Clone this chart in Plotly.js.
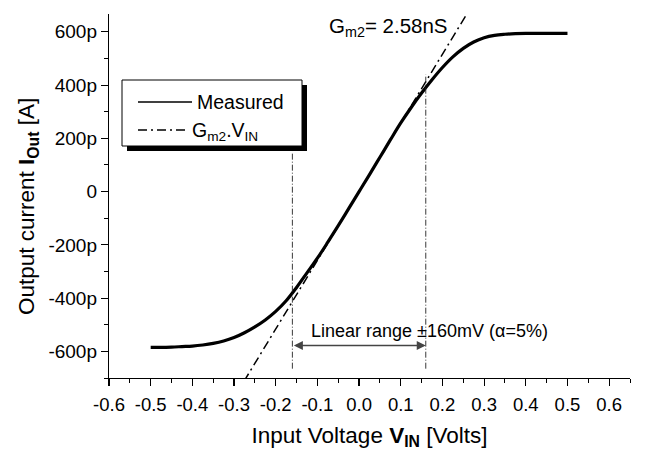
<!DOCTYPE html>
<html>
<head>
<meta charset="utf-8">
<script src="https://cdn.plot.ly/plotly-3.0.1.min.js"></script>
<style>html,body{margin:0;padding:0;background:#fff;}#chart{width:646px;height:453px;}</style>
</head>
<body>
<div id="chart"></div>
<script>
// Measured transfer curve (V in volts, I in pA)
const measV = [-0.500,-0.475,-0.450,-0.425,-0.400,-0.375,-0.350,-0.325,-0.300,-0.275,-0.250,-0.225,-0.200,-0.175,-0.150,-0.125,-0.100,-0.075,-0.050,-0.025,0,0.025,0.050,0.075,0.100,0.125,0.150,0.175,0.200,0.225,0.250,0.275,0.300,0.325,0.350,0.375,0.400,0.425,0.450,0.475,0.500];
const measI = [-585,-585,-584,-582,-580,-576,-570,-561,-548,-530,-508,-482,-450,-410,-360,-305,-250,-190,-128,-64,0,64,129,194,258,316,370,420,466,506,538,562,578,587,591,593,594,594,594,594,594];
// Linear fit Gm2*V (2.58 nS)
const fitV = [-0.30, 0.30];
const fitI = [-774, 774];
// Linear range markers (±160 mV)
const limLeftV = [-0.16, -0.16];
const limLeftI = [-665, 150];
const limRightV = [0.16, 0.16];
const limRightI = [-665, 440];
// Tick labels
const xTickVals = [-0.6,-0.5,-0.4,-0.3,-0.2,-0.1,0,0.1,0.2,0.3,0.4,0.5,0.6];
const xTickText = ["-0.6","-0.5","-0.4","-0.3","-0.2","-0.1","0.0","0.1","0.2","0.3","0.4","0.5","0.6"];
const yTickVals = [-600,-400,-200,0,200,400,600];
const yTickText = ["-600p","-400p","-200p","0","200p","400p","600p"];

const W = 646, H = 453;
const M = {l:109, r:16, t:14, b:75};
const pw = W - M.l - M.r, ph = H - M.t - M.b;
const px = x => (x - M.l) / pw;
const py = y => (H - M.b - y) / ph;

const FONT = "Liberation Sans, Arial, sans-serif";
const DASHDOT = '9px,4px,2px,4px';

const traces = [
  {x: measV, y: measI, mode: 'lines', line: {color: '#000', width: 3.2, shape: 'spline'}, showlegend: false, hoverinfo: 'skip'},
  {x: fitV, y: fitI, mode: 'lines', line: {color: '#000', width: 1.5, dash: DASHDOT}, showlegend: false, hoverinfo: 'skip'},
  {x: limLeftV, y: limLeftI, mode: 'lines', line: {color: '#222', width: 0.9, dash: '6px,2px,1px,2px'}, showlegend: false, hoverinfo: 'skip'},
  {x: limRightV, y: limRightI, mode: 'lines', line: {color: '#222', width: 0.9, dash: '6px,2px,1px,2px'}, showlegend: false, hoverinfo: 'skip'}
];

const layout = {
  width: W, height: H,
  margin: M,
  paper_bgcolor: '#fff', plot_bgcolor: '#fff',
  font: {family: FONT, size: 19, color: '#000'},
  showlegend: false,
  xaxis: {
    range: [-0.6, 0.65], showgrid: false, zeroline: false,
    showline: true, linecolor: '#000', linewidth: 1.2,
    tickmode: 'array', tickvals: xTickVals, ticktext: xTickText,
    ticks: 'outside', ticklen: 7, tickwidth: 1.2, tickcolor: '#000',
    ticklabelstandoff: 3,
    minor: {tickmode: 'linear', tick0: 0, dtick: 0.05, ticks: 'outside', ticklen: 4, tickwidth: 1, tickcolor: '#000'},
    tickfont: {size: 18.5},
    title: {text: 'Input Voltage <b>V<sub>IN</sub></b> [Volts]', font: {size: 22.5}, standoff: 12},
    automargin: false
  },
  yaxis: {
    range: [-700, 667], showgrid: false, zeroline: false,
    showline: true, linecolor: '#000', linewidth: 1.2,
    tickmode: 'array', tickvals: yTickVals, ticktext: yTickText,
    ticks: 'outside', ticklen: 7, tickwidth: 1.2, tickcolor: '#000',
    minor: {tickmode: 'linear', tick0: 0, dtick: 100, ticks: 'outside', ticklen: 4, tickwidth: 1, tickcolor: '#000'},
    tickfont: {size: 19},
    automargin: false
  },
  shapes: [
    // legend shadow
    {type: 'rect', xref: 'paper', yref: 'paper', x0: px(127), x1: px(307), y0: py(151), y1: py(85), fillcolor: '#000', line: {width: 0}, layer: 'above'},
    // legend box
    {type: 'rect', xref: 'paper', yref: 'paper', x0: px(122), x1: px(302), y0: py(146), y1: py(80), fillcolor: '#fff', line: {color: '#000', width: 1}, layer: 'above'},
    // legend samples
    {type: 'line', xref: 'paper', yref: 'paper', x0: px(138), x1: px(192), y0: py(102), y1: py(102), line: {color: '#000', width: 1.5}, layer: 'above'},
    {type: 'line', xref: 'paper', yref: 'paper', x0: px(138), x1: px(189), y0: py(130), y1: py(130), line: {color: '#000', width: 1.5, dash: DASHDOT}, layer: 'above'}
  ],
  annotations: [
    // y-axis title
    {xref: 'paper', yref: 'paper', x: px(28), y: py(207), xanchor: 'center', yanchor: 'middle', textangle: -90,
     text: 'Output current <b>I<sub>Out</sub></b> [A]', showarrow: false, font: {size: 22.5}},
    // legend texts
    {xref: 'paper', yref: 'paper', x: px(195), y: py(102), xanchor: 'left', yanchor: 'middle', text: 'Measured', showarrow: false, font: {size: 19.5}},
    {xref: 'paper', yref: 'paper', x: px(190), y: py(131), xanchor: 'left', yanchor: 'middle', text: 'G<sub>m2</sub>.V<sub>IN</sub>', showarrow: false, font: {size: 19.5}},
    // slope label
    {x: 0.218, y: 619, xanchor: 'right', yanchor: 'middle', text: 'G<sub>m2</sub>= 2.58nS', showarrow: false, font: {size: 20.5}},
    // linear range label and arrow
    {x: -0.12, y: -524, xanchor: 'left', yanchor: 'middle', text: 'Linear range ±160mV (α=5%)', showarrow: false, font: {size: 18}},
    {x: 0.16, y: -578, ax: -0.16, ay: -578, axref: 'x', ayref: 'y', text: '', showarrow: true, arrowhead: 2, arrowside: 'end+start', arrowsize: 1.2, arrowwidth: 1.5, arrowcolor: '#444', standoff: 0, startstandoff: 0}
  ]
};

Plotly.newPlot('chart', traces, layout, {staticPlot: true, displayModeBar: false});
</script>
</body>
</html>
